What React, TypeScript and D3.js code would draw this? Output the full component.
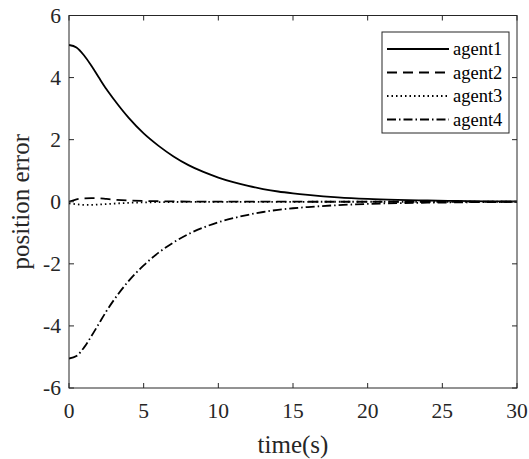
import React from "react";
import * as d3 from "d3";

const times = [0, 0.5, 1, 1.5, 2, 2.5, 3, 4, 5, 6, 7, 8, 9, 10, 11, 12, 13, 14, 15, 16, 18, 20, 22, 24, 26, 28, 30];
const agent1 = [5.05, 4.97, 4.72, 4.38, 4.0, 3.63, 3.3, 2.7, 2.2, 1.8, 1.46, 1.18, 0.96, 0.78, 0.63, 0.51, 0.41, 0.33, 0.27, 0.22, 0.14, 0.09, 0.06, 0.04, 0.025, 0.015, 0.01];
const agent2 = [0, 0.08, 0.11, 0.115, 0.11, 0.09, 0.07, 0.04, 0.025, 0.016, 0.01, 0.007, 0.005, 0.004, 0.003, 0.002, 0.0015, 0.001, 0.001, 0.0008, 0.0005, 0.0003, 0.0002, 0.0001, 0, 0, 0];
const agent3 = [-0.05, -0.08, -0.1, -0.1, -0.09, -0.075, -0.06, -0.035, -0.02, -0.013, -0.008, -0.006, -0.004, -0.003, -0.002, -0.0015, -0.001, -0.001, -0.001, -0.0008, -0.0005, -0.0003, -0.0002, -0.0001, 0, 0, 0];
const agent4 = [-5.05, -4.97, -4.7, -4.33, -3.93, -3.53, -3.17, -2.55, -2.05, -1.64, -1.31, -1.04, -0.83, -0.66, -0.53, -0.42, -0.33, -0.26, -0.21, -0.17, -0.11, -0.07, -0.045, -0.03, -0.02, -0.01, -0.005];

const seriesNames = ["agent1", "agent2", "agent3", "agent4"];
const seriesValues = [agent1, agent2, agent3, agent4];
const dashes = [null, "10,6", "1.5,3", "9,3,1.5,3"];

const xTicks = [0, 5, 10, 15, 20, 25, 30];
const yTicks = [-6, -4, -2, 0, 2, 4, 6];

export default function App() {
  const W = 529, H = 459;
  const left = 69, right = 517, top = 15.5, bottom = 388;
  const x = d3.scaleLinear().domain([0, 30]).range([left, right]);
  const y = d3.scaleLinear().domain([-6, 6]).range([bottom, top]);
  const line = d3
    .line<number>()
    .x((_, i) => x(times[i]))
    .y((d) => y(d))
    .curve(d3.curveMonotoneX);
  const axisColor = "#262626";
  const font = "'Liberation Serif', 'Times New Roman', serif";
  const legendRows = [49, 72.5, 96, 119.5];

  return (
    <svg width={W} height={H} style={{ position: "absolute", left: 0, top: 0 }} fontFamily={font}>
      <rect x={0} y={0} width={W} height={H} fill="#fff" />
      <defs>
        <clipPath id="plotclip">
          <rect x={left} y={top} width={right - left} height={bottom - top} />
        </clipPath>
      </defs>
      <g clipPath="url(#plotclip)">
        {seriesValues.map((vals, k) => (
          <path
            key={k}
            d={line(vals) || ""}
            fill="none"
            stroke="#000"
            strokeWidth={1.8}
            strokeDasharray={dashes[k] || undefined}
          />
        ))}
      </g>
      <rect x={left} y={top} width={right - left} height={bottom - top} fill="none" stroke={axisColor} strokeWidth={1} />
      {xTicks.map((t) => (
        <g key={"xt" + t}>
          <line x1={x(t)} x2={x(t)} y1={bottom} y2={bottom - 5} stroke={axisColor} />
          <line x1={x(t)} x2={x(t)} y1={top} y2={top + 5} stroke={axisColor} />
          <text x={x(t)} y={418} textAnchor="middle" fontSize={21.5} fill={axisColor}>
            {t}
          </text>
        </g>
      ))}
      {yTicks.map((t) => (
        <g key={"yt" + t}>
          <line x1={left} x2={left + 5} y1={y(t)} y2={y(t)} stroke={axisColor} />
          <line x1={right} x2={right - 5} y1={y(t)} y2={y(t)} stroke={axisColor} />
          <text x={61} y={y(t)} dy="0.34em" textAnchor="end" fontSize={21.5} fill={axisColor}>
            {t}
          </text>
        </g>
      ))}
      <text x={(left + right) / 2} y={453} textAnchor="middle" fontSize={25} fill={axisColor}>
        time(s)
      </text>
      <text
        transform={`translate(29,${(top + bottom) / 2}) rotate(-90)`}
        textAnchor="middle"
        fontSize={25}
        fill={axisColor}
      >
        position error
      </text>
      <rect x={382} y={32} width={127} height={101} fill="#fff" stroke={axisColor} strokeWidth={1} />
      {seriesNames.map((name, k) => (
        <g key={name}>
          <line
            x1={387}
            x2={449}
            y1={legendRows[k]}
            y2={legendRows[k]}
            stroke="#000"
            strokeWidth={1.8}
            strokeDasharray={dashes[k] || undefined}
          />
          <text x={453} y={legendRows[k]} dy="0.34em" fontSize={18.5} fill="#000">
            {name}
          </text>
        </g>
      ))}
    </svg>
  );
}
